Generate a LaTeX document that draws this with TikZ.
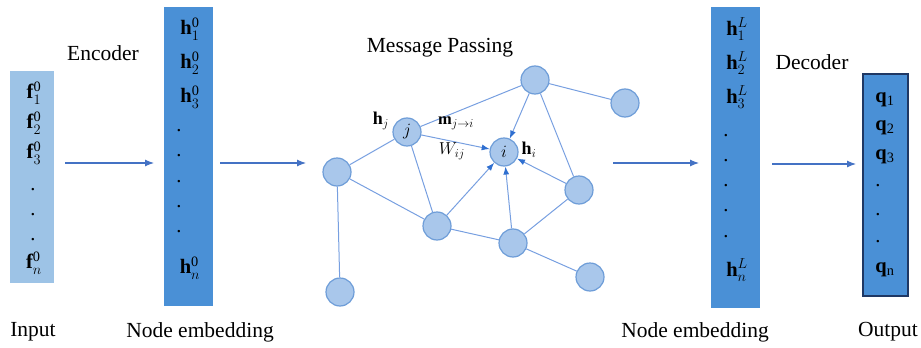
\documentclass[tikz,border=0pt]{standalone}
\usepackage{fontspec}
\setmainfont{Liberation Serif}
\usetikzlibrary{arrows.meta}
\definecolor{lightbox}{HTML}{9DC3E6}
\definecolor{midbox}{HTML}{4A90D6}
\definecolor{navy}{HTML}{1F3864}
\definecolor{gfill}{HTML}{A9C7EB}
\definecolor{gdraw}{HTML}{6E9DD8}
\definecolor{gline}{HTML}{779FE0}
\definecolor{arr}{HTML}{4472C4}
\definecolor{garr}{HTML}{2F6FD0}
\tikzset{
 lbl/.style={font=\fontsize{21.5}{24}\selectfont, inner sep=0pt},
 ent/.style={font=\fontsize{20.5}{22}\selectfont, inner sep=0pt},
 gtxt/.style={font=\fontsize{18}{20}\selectfont, inner sep=0pt},
 flow/.style={draw=arr, line width=1.1pt, -{Latex[length=9pt,width=7pt]}},
 gnode/.style={circle, draw=gdraw, fill=gfill, line width=1.2pt, minimum size=28pt, inner sep=0pt, font=\fontsize{18}{20}\selectfont},
 gedge/.style={draw=gline, line width=1pt},
 garrow/.style={draw=gline, line width=1pt, -{Latex[length=8pt,width=6pt,color=garr]}},
 colbox/.style={anchor=north west, inner sep=0pt, draw=none},
}
\begin{document}
\begin{tikzpicture}[x=1pt,y=-1pt]
\useasboundingbox (0,0) rectangle (921,348);
% boxes
\node[colbox, fill=lightbox, minimum width=44pt, minimum height=212pt] (inb) at (10,71) {};
\node[colbox, fill=midbox, minimum width=49pt, minimum height=299pt] (enc) at (164,7) {};
\node[colbox, fill=midbox, minimum width=49pt, minimum height=301pt] (dec) at (711,7) {};
\node[colbox, fill=midbox, draw=navy, line width=1.5pt, minimum width=45pt, minimum height=222pt] (outb) at (862,73) {};
% input entries
\node[ent] (f1) at (34,93) {$\mathbf{f}_{1}^{\mathrm{0}}$};
\node[ent] (f2) at (34,123) {$\mathbf{f}_{2}^{\mathrm{0}}$};
\node[ent] (f3) at (34,153) {$\mathbf{f}_{3}^{\mathrm{0}}$};
\node[ent] (fd1) at (33,190) {.};
\node[ent] (fd2) at (33,215) {.};
\node[ent] (fd3) at (33,240) {.};
\node[ent] (fn) at (34,263) {$\mathbf{f}_{n}^{\mathrm{0}}$};
% encoder entries
\node[ent] (h1) at (190,29) {$\mathbf{h}_{1}^{\mathrm{0}}$};
\node[ent] (h2) at (190,63) {$\mathbf{h}_{2}^{\mathrm{0}}$};
\node[ent] (h3) at (190,97) {$\mathbf{h}_{3}^{\mathrm{0}}$};
\node[ent] (hd1) at (179,131) {.};
\node[ent] (hd2) at (179,156) {.};
\node[ent] (hd3) at (179,182) {.};
\node[ent] (hd4) at (179,207) {.};
\node[ent] (hd5) at (179,232) {.};
\node[ent] (hn) at (190,268) {$\mathbf{h}_{n}^{\mathrm{0}}$};
% decoder-side entries
\node[ent] (l1) at (737,29) {$\mathbf{h}_{1}^{L}$};
\node[ent] (l2) at (737,63) {$\mathbf{h}_{2}^{L}$};
\node[ent] (l3) at (737,97) {$\mathbf{h}_{3}^{L}$};
\node[ent] (ld1) at (726,136) {.};
\node[ent] (ld2) at (726,161) {.};
\node[ent] (ld3) at (726,186) {.};
\node[ent] (ld4) at (726,211) {.};
\node[ent] (ld5) at (726,237) {.};
\node[ent] (ln) at (737,270) {$\mathbf{h}_{n}^{L}$};
% output entries
\node[ent] (q1) at (885,100) {$\mathbf{q}_{\mathrm{1}}$};
\node[ent] (q2) at (885,128) {$\mathbf{q}_{\mathrm{2}}$};
\node[ent] (q3) at (885,157) {$\mathbf{q}_{\mathrm{3}}$};
\node[ent] (qd1) at (878,186) {.};
\node[ent] (qd2) at (878,215) {.};
\node[ent] (qd3) at (878,242) {.};
\node[ent] (qn) at (885,270) {$\mathbf{q}_{\mathrm{n}}$};
% titles
\node[lbl] (tEnc) at (103,53) {Encoder};
\node[lbl] (tMP) at (440,48) {Message Passing};
\node[lbl] (tDec) at (812,62) {Decoder};
\node[lbl] (tIn) at (33,332) {Input};
\node[lbl] (tNE1) at (200,332) {Node embedding};
\node[lbl] (tNE2) at (695,332) {Node embedding};
\node[lbl] (tOut) at (888,332) {Output};
% flow arrows
\coordinate (a1s) at (65,163);  \coordinate (a1e) at (154,163);
\coordinate (a2s) at (220,163); \coordinate (a2e) at (306,163);
\coordinate (a3s) at (613,163); \coordinate (a3e) at (699,163);
\coordinate (a4s) at (772,164); \coordinate (a4e) at (856,164);
\draw[flow] (a1s) -- (a1e);
\draw[flow] (a2s) -- (a2e);
\draw[flow] (a3s) -- (a3e);
\draw[flow] (a4s) -- (a4e);
% graph nodes
\node[gnode] (nT) at (535,80) {};
\node[gnode] (nR) at (625,103) {};
\node[gnode] (nj) at (407,132) {$j$};
\node[gnode] (ni) at (504,152) {$i$};
\node[gnode] (nL) at (337,172) {};
\node[gnode] (nRM) at (579,190) {};
\node[gnode] (nC) at (437,226) {};
\node[gnode] (nB) at (513,243) {};
\node[gnode] (nRB) at (590,277) {};
\node[gnode] (nBL) at (340,292) {};
% graph edges
\draw[gedge] (nT) -- (nR);
\draw[gedge] (nT) -- (nj);
\draw[gedge] (nT) -- (nRM);
\draw[gedge] (nj) -- (nL);
\draw[gedge] (nj) -- (nC);
\draw[gedge] (nL) -- (nC);
\draw[gedge] (nL) -- (nBL);
\draw[gedge] (nC) -- (nB);
\draw[gedge] (nB) -- (nRM);
\draw[gedge] (nB) -- (nRB);
% messages into i
\draw[garrow] (nj) -- (ni);
\draw[garrow] (nT) -- (ni);
\draw[garrow] (nC) -- (ni);
\draw[garrow] (nB) -- (ni);
\draw[garrow] (nRM) -- (ni);
% graph labels
\node[gtxt] (lhj) at (381,121) {$\mathbf{h}_{j}$};
\node[gtxt] (lhi) at (529,150) {$\mathbf{h}_{i}$};
\node[gtxt, font=\fontsize{16.5}{18}\selectfont] (lm) at (456,123) {$\mathbf{m}_{j\rightarrow i}$};
\node[gtxt, font=\fontsize{16.5}{18}\selectfont] (lw) at (452,151) {$W_{ij}$};
\end{tikzpicture}
\end{document}
